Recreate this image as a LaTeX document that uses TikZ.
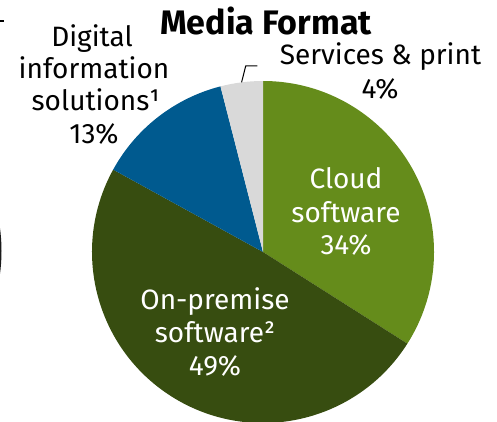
\documentclass[tikz,border=0pt]{standalone}
\usepackage{fontspec}
\setmainfont{Fira Sans}
\usetikzlibrary{calc}
\definecolor{cloudgreen}{HTML}{658C1B}
\definecolor{premgreen}{HTML}{374D10}
\definecolor{disblue}{HTML}{005A8F}
\definecolor{srvgrey}{HTML}{D9D9D9}
\definecolor{edgedark}{HTML}{1A1A1A}
\begin{document}
\begin{tikzpicture}[x=1pt,y=1pt,
  lbl/.style={font=\fontsize{28}{33}\selectfont, anchor=base, inner sep=0pt},
  wlbl/.style={lbl, text=white},
  ttl/.style={font=\bfseries\fontsize{34}{40}\selectfont, anchor=base, inner sep=0pt},
  leader/.style={draw=black, line width=1pt}]
\useasboundingbox (0,0) rectangle (497,-422);
% fragments of neighbouring charts
\begin{scope}
  \clip (0,0) rectangle (497,-422);
  \fill[edgedark] (-169.5,-251) circle (171);
  \draw[line width=1.3pt] (-2,-21) -- (3.5,-21);
\end{scope}
% pie
\coordinate (c) at (263,-252);
\fill[cloudgreen] (c) -- ++(90:171) arc[start angle=90, end angle=-32.4, radius=171] -- cycle;
\fill[premgreen] (c) -- ++(-32.4:171) arc[start angle=-32.4, end angle=-208.8, radius=171] -- cycle;
\fill[disblue] (c) -- ++(151.2:171) arc[start angle=151.2, end angle=104.4, radius=171] -- cycle;
\fill[srvgrey] (c) -- ++(104.4:171) arc[start angle=104.4, end angle=90, radius=171] -- cycle;
% title
\node[ttl] (title) at (266,-35) {Media Format};
% services label and leader
\node[lbl] (srv1) at (380.5,-64.3) {Services \& print};
\node[lbl] (srv2) at (380,-98.3) {4\%};
\coordinate (srvedge) at ($(c)+(97.2:171)$);
\coordinate (srvelbow) at (245.7,-66);
\coordinate (srvend) at (257.3,-66);
\draw[leader] (srvedge) -- (srvelbow) -- (srvend);
% digital information solutions
\node[lbl] (dis1) at (92,-46.7) {Digital};
\node[lbl] (dis2) at (94,-79) {information};
\node[lbl] (dis3) at (96,-111) {solutions¹};
\node[lbl] (dis4) at (94,-143.3) {13\%};
% cloud software
\node[wlbl] (cld1) at (346,-188) {Cloud};
\node[wlbl] (cld2) at (346,-222.5) {software};
\node[wlbl] (cld3) at (346,-254) {34\%};
% on-premise software
\node[wlbl] (opr1) at (215,-309.3) {On-premise};
\node[wlbl] (opr2) at (215,-342.7) {software²};
\node[wlbl] (opr3) at (215,-375) {49\%};
\end{tikzpicture}
\end{document}
